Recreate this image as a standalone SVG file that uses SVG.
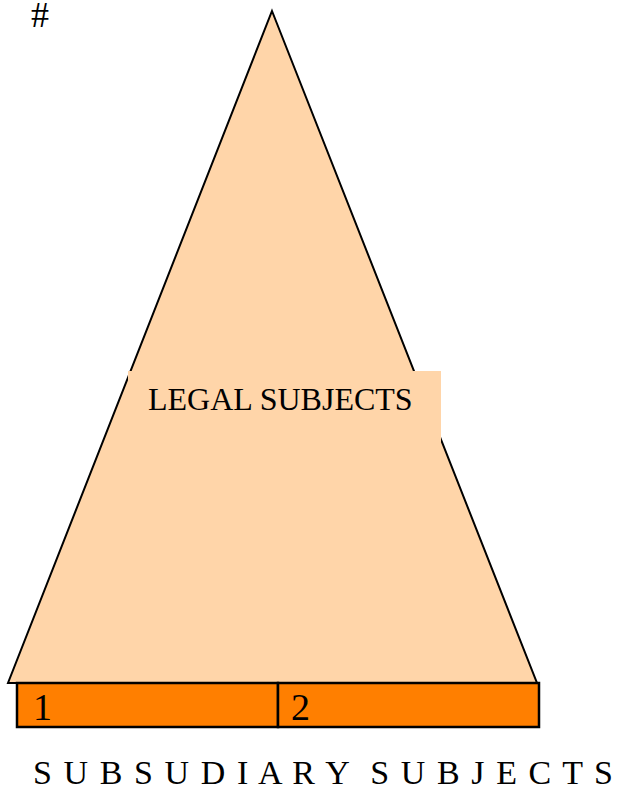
<svg xmlns="http://www.w3.org/2000/svg" width="620" height="788" viewBox="0 0 620 788">
<style>
text{font-family:"Liberation Serif","Times New Roman",serif;fill:#000}
.edge{stroke:#000;stroke-width:2;stroke-linejoin:miter}
.peach{fill:#FFD5A9}
.bar{fill:#FF7F00;stroke:#000;stroke-width:2.5}
</style>
<rect width="620" height="788" fill="#fff"/>
<text x="31" y="27" font-size="36">#</text>
<g id="legal-subjects">
<polygon class="peach edge" points="272,11 537,683 8,683"/>
<rect class="peach" x="128" y="371" width="313" height="71"/>
<text x="148" y="410" font-size="32">LEGAL SUBJECTS</text>
</g>
<g id="subsidiary-1">
<rect class="bar" x="17" y="683" width="261" height="44"/>
<text x="33" y="720" font-size="38">1</text>
</g>
<g id="subsidiary-2">
<rect class="bar" x="278" y="683" width="261" height="44"/>
<text x="291" y="720" font-size="38">2</text>
</g>
<g id="connectors"></g>
<text x="33" y="784" font-size="34" style="white-space:pre" xml:space="preserve" textLength="580" lengthAdjust="spacing">S U B S U D I A R Y  S U B J E C T S</text>
</svg>
